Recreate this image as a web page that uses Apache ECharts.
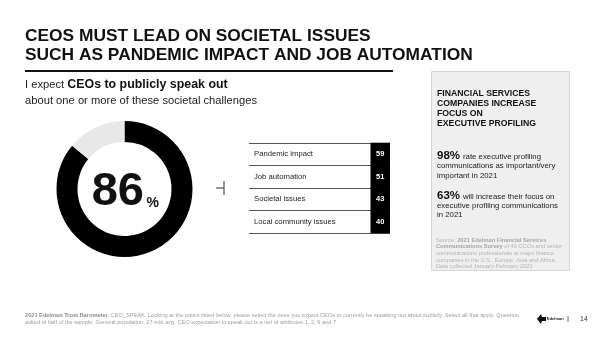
<!DOCTYPE html>
<html><head><meta charset="utf-8">
<script src="https://cdn.jsdelivr.net/npm/echarts@6/dist/echarts.min.js"></script>
<style>html,body{margin:0;padding:0;background:#fff}#c{width:600px;height:337px}</style>
</head><body><div id="c"></div>
<script>
// ---- data ----
const titleLines = ['CEOS MUST LEAD ON SOCIETAL ISSUES', 'SUCH AS PANDEMIC IMPACT AND JOB AUTOMATION'];
const donutNames = ['Expect CEOs to speak out', 'Other'];
const donutValues = [86, 14];
const topics = ['Pandemic impact', 'Job automation', 'Societal issues', 'Local community issues'];
const topicValues = [59, 51, 43, 40];
const statValues = [98, 63];
const statLines = [
  ['rate executive profiling', 'communications as important/very', 'important in 2021'],
  ['will increase their focus on', 'executive profiling communications', 'in 2021']
];
const boxHeading = ['FINANCIAL SERVICES', 'COMPANIES INCREASE', 'FOCUS ON', 'EXECUTIVE PROFILING'];
const pageNumber = '14';

const F = "'Liberation Sans', Arial, Helvetica, sans-serif";
const chart = echarts.init(document.getElementById('c'), null, {renderer: 'canvas'});

const g = [];
// title
titleLines.forEach((t, i) => g.push({type: 'text', x: 25, y: 36 + i * 19,
  style: {text: t, font: `bold 17.35px ${F}`, fill: '#111', verticalAlign: 'middle'}}));
g.push({type: 'line', shape: {x1: 25, y1: 71, x2: 393, y2: 71}, style: {stroke: '#111', lineWidth: 2}});
// subtitle
g.push({type: 'text', x: 25, y: 85, style: {
  text: '{r|I expect }{b|CEOs to publicly speak out}', verticalAlign: 'middle',
  rich: {r: {font: `11.2px ${F}`, fill: '#222'}, b: {font: `bold 12.4px ${F}`, fill: '#111'}}}});
g.push({type: 'text', x: 25, y: 100.5, style: {text: 'about one or more of these societal challenges',
  font: `11.2px ${F}`, fill: '#222', verticalAlign: 'middle'}});
// donut center
g.push({type: 'text', x: 144, y: 192, style: {text: String(donutValues[0]), font: `bold 47px ${F}`,
  fill: '#111', align: 'right', verticalAlign: 'middle'}});
g.push({type: 'text', x: 146.5, y: 203, style: {text: '%', font: `bold 14px ${F}`, fill: '#111', verticalAlign: 'middle'}});
// bracket
g.push({type: 'line', shape: {x1: 216, y1: 188, x2: 224, y2: 188}, style: {stroke: '#333', lineWidth: 1}});
g.push({type: 'line', shape: {x1: 224, y1: 181, x2: 224, y2: 195}, style: {stroke: '#333', lineWidth: 1}});
// side box
g.push({type: 'rect', shape: {x: 431.5, y: 71.5, width: 138, height: 199},
  style: {fill: '#efefef', stroke: '#d6d6d6', lineWidth: 1}, z: -1});
boxHeading.forEach((t, i) => g.push({type: 'text', x: 437, y: 94 + i * 9.8,
  style: {text: t, font: `bold 8.7px ${F}`, fill: '#111', verticalAlign: 'middle'}}));
statValues.forEach((v, k) => {
  const y0 = 156 + k * 39.5;
  g.push({type: 'text', x: 437, y: y0, style: {text: v + '%', font: `bold 11.5px ${F}`, fill: '#111', verticalAlign: 'middle'}});
  statLines[k].forEach((t, i) => g.push({type: 'text', x: i === 0 ? 463 : 437, y: y0 + 1 + i * 9.2,
    style: {text: t, font: `7.8px ${F}`, fill: '#222', verticalAlign: 'middle'}}));
});
const src = ['Source: {b|2021 Edelman Financial Services}', '{b|Communications Survey} of 40 CCOs and senior',
  'communications professionals at major finance', 'companies in the U.S., Europe, Asia and Africa.',
  'Data collected January-February 2021.'];
src.forEach((t, i) => g.push({type: 'text', x: 436, y: 240 + i * 6.7, style: {text: t, verticalAlign: 'middle',
  font: `5.7px ${F}`, fill: '#b4b4b4', rich: {b: {font: `bold 5.7px ${F}`, fill: '#a6a6a6'}}}}));
// footer
const foot = ['{b|2021 Edelman Trust Barometer.} CEO_SPEAK. Looking at the topics listed below, please select the ones you expect CEOs to currently be speaking out about publicly. Select all that apply. Question',
  'asked of half of the sample. General population, 27-mkt avg. CEO expectation to speak out is a net of attributes 1, 2, 6 and 7.'];
foot.forEach((t, i) => g.push({type: 'text', x: 25, y: 315 + i * 7, style: {text: t, verticalAlign: 'middle',
  font: `5.65px ${F}`, fill: '#a0a0a0', rich: {b: {font: `bold 5.65px ${F}`, fill: '#8c8c8c'}}}}));
g.push({type: 'polygon', shape: {points: [[537, 319], [541, 314], [542, 317], [546, 317], [546, 321], [542, 321], [541, 324]]},
  style: {fill: '#111'}});
g.push({type: 'text', x: 547, y: 319, style: {text: 'Edelman', font: `bold 4px ${F}`, fill: '#222', verticalAlign: 'middle'}});
g.push({type: 'line', shape: {x1: 568, y1: 316, x2: 568, y2: 322}, style: {stroke: '#444', lineWidth: 0.8}});
g.push({type: 'text', x: 580, y: 319, style: {text: pageNumber, font: `7px ${F}`, fill: '#333', verticalAlign: 'middle'}});

chart.setOption({
  animation: false,
  grid: {left: 249, top: 143, width: 141, height: 90},
  xAxis: {type: 'value', min: 0, max: 1, show: false},
  yAxis: {type: 'category', data: topics, inverse: true,
    axisLine: {show: false}, axisTick: {show: false},
    axisLabel: {inside: true, margin: 5, color: '#222', fontSize: 7.7, fontFamily: F},
    splitLine: {show: true, lineStyle: {color: '#555', width: 1}}},
  series: [
    {type: 'pie', center: [124.5, 189], radius: [47, 68], startAngle: 90, clockwise: true,
     label: {show: false}, labelLine: {show: false}, silent: true, emphasis: {disabled: true},
     itemStyle: {borderWidth: 0},
     data: donutNames.map((n, i) => ({name: n, value: donutValues[i],
       itemStyle: {color: i === 0 ? '#000' : '#e8e8e8'}}))},
    {type: 'custom', silent: true, z: 5,
     data: topics.map((t, i) => [i, topicValues[i]]),
     encode: {y: 0},
     renderItem: (params, api) => {
       const cs = params.coordSys;
       const yc = api.coord([0, api.value(0)])[1];
       const h = api.size([0, 1])[1];
       const w = 19.5;
       const x1 = cs.x + cs.width - w;
       return {type: 'group', children: [
         {type: 'rect', shape: {x: x1, y: yc - h / 2 - 0.3, width: w, height: h + 0.6}, style: {fill: '#000'}},
         {type: 'text', style: {text: String(api.value(1)), x: x1 + w / 2, y: yc, align: 'center',
           verticalAlign: 'middle', fill: '#fff', font: `bold 7.5px ${F}`}}
       ]};
     }}
  ],
  graphic: {elements: g}
});
</script></body></html>
